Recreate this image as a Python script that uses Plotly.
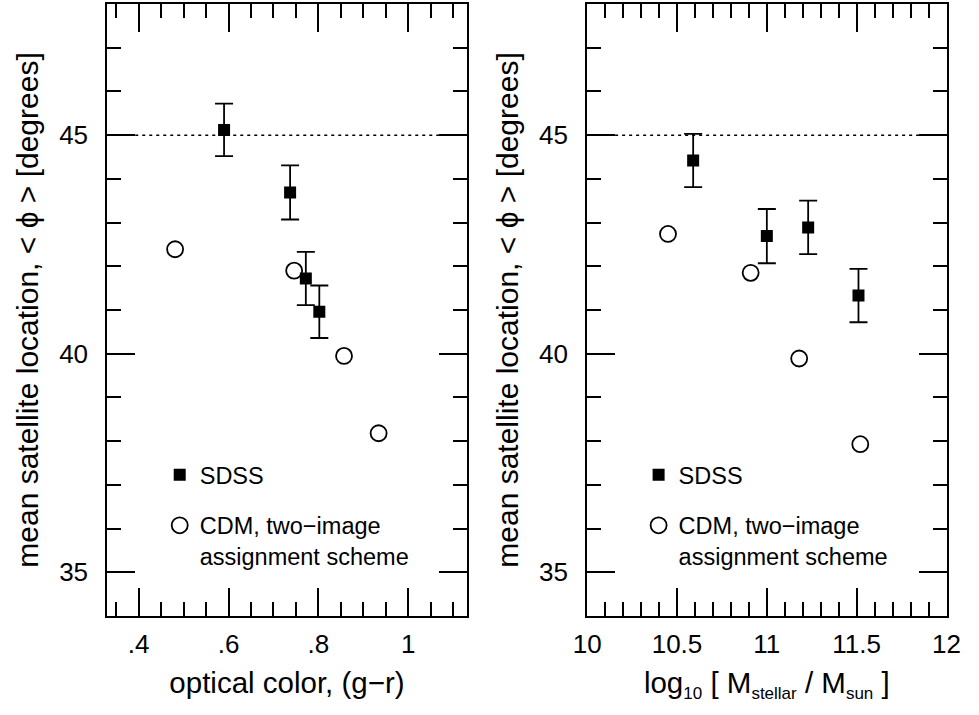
import plotly.graph_objects as go

# ---------------- data ----------------
color_sdss_x = [0.590, 0.737, 0.772, 0.802]
color_sdss_y = [45.12, 43.69, 41.72, 40.96]
color_sdss_err = [0.60, 0.62, 0.61, 0.60]

color_cdm_x = [0.481, 0.746, 0.857, 0.934]
color_cdm_y = [42.39, 41.90, 39.95, 38.18]

mass_sdss_x = [10.59, 11.00, 11.23, 11.51]
mass_sdss_y = [44.42, 42.69, 42.89, 41.33]
mass_sdss_err = [0.61, 0.62, 0.61, 0.61]

mass_cdm_x = [10.45, 10.91, 11.18, 11.52]
mass_cdm_y = [42.74, 41.85, 39.89, 37.93]

reference_angle = 45

color_tickvals = [0.4, 0.6, 0.8, 1.0]
color_ticktext = [".4", ".6", ".8", "1"]
mass_tickvals = [10, 10.5, 11, 11.5, 12]
mass_ticktext = ["10", "10.5", "11", "11.5", "12"]
y_tickvals = [35, 40, 45]

sdss_name = "SDSS"
cdm_name = "CDM, two\u2212image<br>assignment scheme"
y_title = "mean satellite location, &lt; \u03d5 &gt; [degrees]"
x1_title = "optical color, (g\u2212r)"
SUB = '<sub><span style="font-size:17px">{}</span></sub>'
x2_title = "log" + SUB.format("10") + " [ M" + SUB.format("stellar") + " / M" + SUB.format("sun") + " ]"

# ---------------- figure ----------------
FONT = "Liberation Sans, Arial, Helvetica, sans-serif"
W, H = 979, 715

fig = go.Figure()

circle_marker = dict(symbol="circle-open", size=16, color="black", line=dict(width=1.8, color="black"))
square_marker = dict(symbol="square", size=12, color="black", line=dict(width=0))
err_style = dict(type="data", visible=True, thickness=1.8, width=9, color="black")

fig.add_trace(go.Scatter(x=color_cdm_x, y=color_cdm_y, mode="markers", marker=circle_marker,
                         name=cdm_name, legend="legend", legendgroup="b", legendrank=2,
                         xaxis="x", yaxis="y"))
fig.add_trace(go.Scatter(x=color_sdss_x, y=color_sdss_y, mode="markers", marker=square_marker,
                         error_y=dict(array=color_sdss_err, **err_style),
                         name=sdss_name, legend="legend", legendgroup="a", legendrank=1,
                         xaxis="x", yaxis="y"))
fig.add_trace(go.Scatter(x=mass_cdm_x, y=mass_cdm_y, mode="markers", marker=circle_marker,
                         name=cdm_name, legend="legend2", legendgroup="d", legendrank=2,
                         xaxis="x2", yaxis="y2"))
fig.add_trace(go.Scatter(x=mass_sdss_x, y=mass_sdss_y, mode="markers", marker=square_marker,
                         error_y=dict(array=mass_sdss_err, **err_style),
                         name=sdss_name, legend="legend2", legendgroup="c", legendrank=1,
                         xaxis="x2", yaxis="y2"))

for xr in ["x domain", "x2 domain"]:
    yr = "y" if xr == "x domain" else "y2"
    fig.add_shape(type="line", xref=xr, yref=yr, x0=0, x1=1, y0=reference_angle, y1=reference_angle,
                  line=dict(color="black", width=1.5, dash="3px,4px"), layer="below")

ydom = [1 - 616 / H, 1 - 4 / H]
common_axis = dict(showline=True, linecolor="black", linewidth=2, mirror="allticks",
                   ticks="inside", ticklen=28, tickwidth=1.8, tickcolor="black",
                   showgrid=False, zeroline=False,
                   tickfont=dict(family=FONT, size=26, color="black"))
minor_common = dict(ticks="inside", ticklen=14, tickwidth=1.8, tickcolor="black", tick0=0)
xtitle_font = dict(family=FONT, size=29.5, color="black")
ytitle_font = dict(family=FONT, size=30, color="black")

legend_common = dict(xanchor="left", yanchor="top", bgcolor="rgba(0,0,0,0)", borderwidth=0,
                     traceorder="grouped", tracegroupgap=17, valign="top", itemsizing="trace",
                     font=dict(family=FONT, size=23.5, color="black"))

fig.update_layout(
    width=W, height=H,
    margin=dict(l=0, r=0, t=0, b=0),
    paper_bgcolor="white", plot_bgcolor="white",
    showlegend=True,
    xaxis=dict(domain=[96 / W, 466 / W], range=[0.33, 1.13], tickmode="array",
               tickvals=color_tickvals, ticktext=color_ticktext,
               minor=dict(dtick=0.05, **minor_common),
               ticklabelstandoff=4, title=dict(text=x1_title, standoff=14, font=xtitle_font), anchor="y",
               **common_axis),
    yaxis=dict(domain=ydom, range=[34, 48], tickmode="array", tickvals=y_tickvals,
               minor=dict(dtick=1, **minor_common),
               ticklabelstandoff=12, title=dict(text=y_title, standoff=12, font=ytitle_font), anchor="x",
               **common_axis),
    xaxis2=dict(domain=[590 / W, 960 / W], range=[10, 12], tickmode="array",
                tickvals=mass_tickvals, ticktext=mass_ticktext,
                minor=dict(dtick=0.1, **minor_common),
                ticklabelstandoff=4, title=dict(text=x2_title, standoff=14, font=xtitle_font), anchor="y2",
                **common_axis),
    yaxis2=dict(domain=ydom, range=[34, 48], tickmode="array", tickvals=y_tickvals,
                minor=dict(dtick=1, **minor_common),
                ticklabelstandoff=12, title=dict(text=y_title, standoff=12, font=ytitle_font), anchor="x2",
                **common_axis),
    legend=dict(x=150 / W, y=1 - 453 / H, **legend_common),
    legend2=dict(x=643 / W, y=1 - 453 / H, **legend_common),
)

fig.write_html(
    "out.html",
    config={"displayModeBar": False},
    post_script="document.body.style.margin='0';document.body.style.overflow='hidden';",
)
